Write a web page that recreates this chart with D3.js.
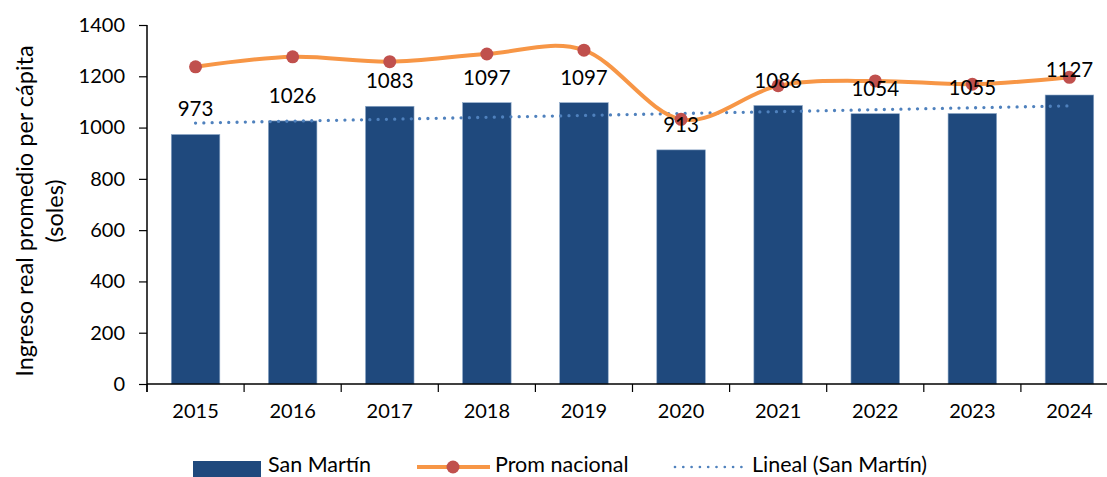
<!DOCTYPE html>
<html>
<head>
<meta charset="utf-8">
<script src="https://cdn.jsdelivr.net/npm/d3@7"></script>
<style>
  html, body { margin: 0; padding: 0; background: #fff; }
  svg { display: block; font-family: Lato, "Open Sans", sans-serif; }
</style>
</head>
<body>
<svg id="chart" width="1107" height="477"></svg>
<script>
// Years on the category axis
const years = ["2015", "2016", "2017", "2018", "2019", "2020", "2021", "2022", "2023", "2024"];
// Average real income per capita, San Martín (bars, labelled)
const sanMartin = [973, 1026, 1083, 1097, 1097, 913, 1086, 1054, 1055, 1127];
// National average (smoothed line with markers)
const promNacional = [1237, 1276, 1257, 1287, 1302, 1032, 1163, 1182, 1169, 1196];
// Value axis ticks
const yTicks = [0, 200, 400, 600, 800, 1000, 1200, 1400];

const svg = d3.select("#chart");
const plotLeft = 147, plotRight = 1118, plotTop = 25, plotBottom = 384;

const x = d3.scaleBand().domain(years).range([plotLeft, plotRight]).paddingInner(0.5).paddingOuter(0.25);
const xEdge = d3.scaleLinear().domain([0, years.length]).range([plotLeft, plotRight]);
const y = d3.scaleLinear().domain([0, 1400]).range([plotBottom, plotTop]);

const blue = "#1F497D", orange = "#F79646", red = "#C0504D", dotBlue = "#4F81BD";

// Bars
svg.append("g").selectAll("rect").data(sanMartin).join("rect")
  .attr("x", (d, i) => x(years[i]))
  .attr("y", d => y(d))
  .attr("width", x.bandwidth())
  .attr("height", d => y(0) - y(d))
  .attr("fill", blue)
  .attr("stroke", "#8EA9C8")
  .attr("stroke-width", 0.6);

// Linear trend of the San Martín series (least squares)
const n = sanMartin.length;
const mx = d3.mean(d3.range(n)), my = d3.mean(sanMartin);
const slope = d3.sum(d3.range(n), i => (i - mx) * (sanMartin[i] - my)) / d3.sum(d3.range(n), i => (i - mx) ** 2);
const trend = d3.range(n).map(i => my + slope * (i - mx));
const cx = i => x(years[i]) + x.bandwidth() / 2;

svg.append("path")
  .attr("d", d3.line().x(d => cx(d)).y(d => y(trend[d]))([0, n - 1]))
  .attr("fill", "none")
  .attr("stroke", dotBlue)
  .attr("stroke-width", 3.3)
  .attr("stroke-linecap", "round")
  .attr("stroke-dasharray", "0 8.3");

// National average line (smoothed)
svg.append("path")
  .attr("d", d3.line().x((d, i) => cx(i)).y(d => y(d)).curve(d3.curveCardinal.tension(0))(promNacional))
  .attr("fill", "none")
  .attr("stroke", orange)
  .attr("stroke-width", 4);

svg.append("g").selectAll("circle").data(promNacional).join("circle")
  .attr("cx", (d, i) => cx(i))
  .attr("cy", d => y(d))
  .attr("r", 6.5)
  .attr("fill", red);

// Bar value labels
svg.append("g").selectAll("text").data(sanMartin).join("text")
  .attr("x", (d, i) => cx(i))
  .attr("y", d => y(d) - 18)
  .attr("text-anchor", "middle")
  .attr("font-size", 20.5)
  .attr("fill", "#000")
  .text(d => d);

// Axes
const xAxis = svg.append("g");
xAxis.append("line").attr("x1", plotLeft).attr("x2", plotRight).attr("y1", plotBottom).attr("y2", plotBottom)
  .attr("stroke", "#000").attr("stroke-width", 1.5);
xAxis.selectAll("line.tick").data(d3.range(years.length + 1)).join("line")
  .attr("class", "tick")
  .attr("x1", i => xEdge(i)).attr("x2", i => xEdge(i))
  .attr("y1", plotBottom).attr("y2", plotBottom + 8)
  .attr("stroke", "#000").attr("stroke-width", 1.2);
xAxis.selectAll("text").data(years).join("text")
  .attr("x", d => x(d) + x.bandwidth() / 2)
  .attr("y", 418)
  .attr("text-anchor", "middle")
  .attr("font-size", 20)
  .text(d => d);

const yAxis = svg.append("g").attr("transform", `translate(${plotLeft},0)`)
  .call(d3.axisLeft(y).tickValues(yTicks).tickSize(8).tickPadding(14).tickFormat(d3.format("d")));
yAxis.select(".domain").attr("stroke", "#000").attr("stroke-width", 1.5)
  .attr("d", `M0,${plotBottom + 8}V${plotTop}`);
yAxis.selectAll(".tick line").attr("stroke", "#000").attr("stroke-width", 1.2);
yAxis.selectAll(".tick text").attr("font-size", 20).attr("fill", "#000")
  .attr("font-family", "Lato, 'Open Sans', sans-serif");

// Value axis title
const title = svg.append("text")
  .attr("transform", "translate(0,211) rotate(-90)")
  .attr("text-anchor", "middle")
  .attr("font-size", 23.5)
  .attr("fill", "#000");
title.append("tspan").attr("x", 0).attr("y", 33).text("Ingreso real promedio per cápita");
title.append("tspan").attr("x", 0).attr("y", 63).text("(soles)");

// Legend
const lg = svg.append("g").attr("font-size", 21.5);
lg.append("rect").attr("x", 193).attr("y", 461).attr("width", 68).attr("height", 16).attr("fill", blue);
lg.append("text").attr("x", 268).attr("y", 472).text("San Martín");
lg.append("line").attr("x1", 417).attr("x2", 490).attr("y1", 467).attr("y2", 467)
  .attr("stroke", orange).attr("stroke-width", 4);
lg.append("circle").attr("cx", 453).attr("cy", 467).attr("r", 6.5).attr("fill", red);
lg.append("text").attr("x", 495).attr("y", 472).text("Prom nacional");
lg.append("line").attr("x1", 675).attr("x2", 745).attr("y1", 467).attr("y2", 467)
  .attr("stroke", dotBlue).attr("stroke-width", 2.7).attr("stroke-linecap", "round")
  .attr("stroke-dasharray", "0 8.3");
lg.append("text").attr("x", 752).attr("y", 472).text("Lineal (San Martín)");
</script>
</body>
</html>
